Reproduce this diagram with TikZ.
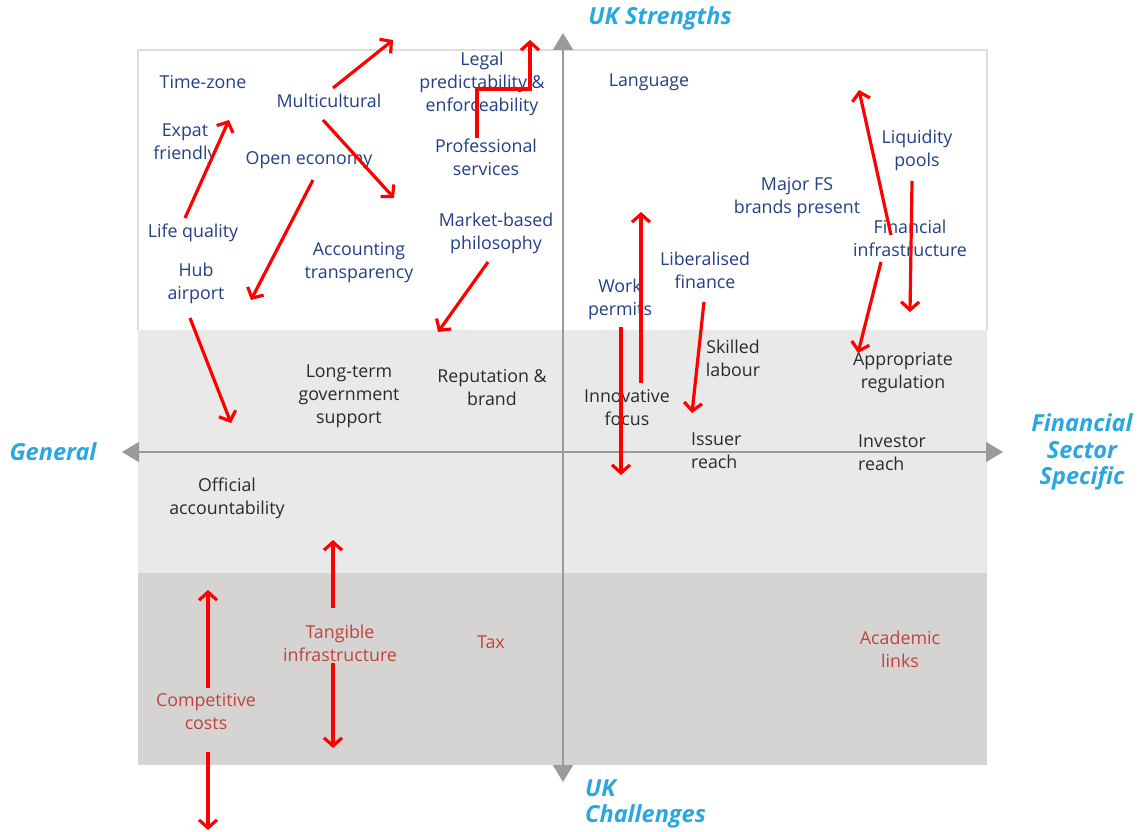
\documentclass[tikz,border=0pt]{standalone}
\usepackage{fontspec}
\setmainfont{Open Sans}
\usetikzlibrary{arrows.meta}
\definecolor{navy}{HTML}{233F86}
\definecolor{ink}{HTML}{2A2A2A}
\definecolor{brick}{HTML}{C0433A}
\definecolor{sky}{HTML}{2AA7DF}
\definecolor{midband}{HTML}{E9E9E9}
\definecolor{lowband}{HTML}{D5D4D3}
\definecolor{frame}{HTML}{DDDDDD}
\definecolor{axisgray}{HTML}{9A9A96}

\begin{document}
\begin{tikzpicture}[x=1pt,y=-1pt,
  lbl/.style={align=center,font=\fontsize{17.8}{23}\selectfont,inner sep=0pt},
  strength/.style={lbl,text=navy},
  neutral/.style={lbl,text=ink},
  challenge/.style={lbl,text=brick},
  heading/.style={font=\fontsize{23.5}{26.5}\selectfont\bfseries\itshape,text=sky,inner sep=0pt},
  link/.style={red,line width=3.2pt,-{Straight Barb[length=8pt,width=18pt]}},
  axis/.style={axisgray,line width=2pt,-{Triangle[length=17pt,width=20pt]}}]

\useasboundingbox (0,0) rectangle (1140,832);

% bands of the matrix
\fill[white] (138,50) rectangle (987,330);
\draw[frame,line width=1.5pt] (138,330) -- (138,50) -- (987,50) -- (987,330);
\fill[midband] (138,330) rectangle (987,573);
\fill[lowband] (138,573) rectangle (987,765);

% axes
\coordinate (origin) at (563,452);
\coordinate (top) at (563,33);
\coordinate (bottom) at (563,782);
\coordinate (left) at (122,452);
\coordinate (right) at (1003,452);
\draw[axis] (origin) -- (top);
\draw[axis] (origin) -- (bottom);
\draw[axis] (origin) -- (left);
\draw[axis] (origin) -- (right);

% axis headings
\node[heading] (hS) at (660,18) {UK Strengths};
\node[heading,align=left,anchor=west] (hC) at (585,804) {UK\\Challenges};
\node[heading] (hG) at (53,452) {General};
\node[heading,align=center] (hF) at (1082,452) {Financial\\Sector\\Specific};

% strengths
\node[strength] (timezone) at (203,82) {Time-zone};
\node[strength] (multi) at (329,101) {Multicultural};
\node[strength] (expat) at (185,144) {Expat\\friendly};
\node[strength] (open) at (309,160) {Open economy};
\node[strength] (life) at (193,233) {Life quality};
\node[strength] (hub) at (196,283) {Hub\\airport};
\node[strength] (acct) at (359,263) {Accounting\\transparency};
\node[strength] (legal) at (482,84) {Legal\\predictability \&\\enforceability};
\node[strength] (prof) at (486,157) {Professional\\services};
\node[strength] (market) at (496,233) {Market-based\\philosophy};
\node[strength] (lang) at (649,82) {Language};
\node[strength] (liq) at (917,150) {Liquidity\\pools};
\node[strength] (brands) at (797,198) {Major FS\\brands present};
\node[strength] (finfra) at (910,238) {Financial\\infrastructure};
\node[strength] (liberal) at (705,270) {Liberalised\\finance};
\node[strength] (work) at (620,299) {Work\\permits};

% neutral factors
\node[neutral] (govt) at (349,396) {Long-term\\government\\support};
\node[neutral] (rep) at (492,388) {Reputation \&\\brand};
\node[neutral] (innov) at (627,408) {Innovative\\focus};
\node[neutral] (skill) at (733,358) {Skilled\\labour};
\node[neutral] (reg) at (903,373) {Appropriate\\regulation};
\node[neutral,align=left,anchor=west] (issuer) at (691,451) {Issuer\\reach};
\node[neutral,align=left,anchor=west] (investor) at (858,453) {Investor\\reach};
\node[neutral] (official) at (227,498) {Official\\accountability};

% challenges
\node[challenge] (tangible) at (340,643) {Tangible\\infrastructure};
\node[challenge] (tax) at (491,642) {Tax};
\node[challenge] (costs) at (206,712) {Competitive\\costs};
\node[challenge] (academic) at (900,649) {Academic\\links};

% movement of each factor
\coordinate (m1a) at (333,88);   \coordinate (m1b) at (393,40);
\coordinate (m2a) at (323,120);  \coordinate (m2b) at (394,198);
\coordinate (m3a) at (185,218);  \coordinate (m3b) at (229,120);
\coordinate (m4a) at (313,180);  \coordinate (m4b) at (251,300);
\coordinate (m5a) at (477,138);  \coordinate (m5b) at (477,89);
\coordinate (m5c) at (530,89);   \coordinate (m5d) at (530,40);
\coordinate (m6a) at (488,262);  \coordinate (m6b) at (438,332);
\coordinate (m7a) at (190,318);  \coordinate (m7b) at (231,423);
\coordinate (m8a) at (641,383);  \coordinate (m8b) at (641,212);
\coordinate (m9a) at (621,327);  \coordinate (m9b) at (621,475);
\coordinate (m10a) at (704,302); \coordinate (m10b) at (692,413);
\coordinate (m11a) at (891,235); \coordinate (m11b) at (859,90);
\coordinate (m12a) at (912,181); \coordinate (m12b) at (910,312);
\coordinate (m13a) at (881,262); \coordinate (m13b) at (858,353);
\coordinate (m14a) at (333,608); \coordinate (m14b) at (333,540);
\coordinate (m15a) at (333,663); \coordinate (m15b) at (333,748);
\coordinate (m16a) at (208,688); \coordinate (m16b) at (208,590);
\coordinate (m17a) at (208,752); \coordinate (m17b) at (208,830);

\draw[link] (m1a) -- (m1b);
\draw[link] (m2a) -- (m2b);
\draw[link] (m3a) -- (m3b);
\draw[link] (m4a) -- (m4b);
\draw[link] (m5a) -- (m5b) -- (m5c) -- (m5d);
\draw[link] (m6a) -- (m6b);
\draw[link] (m7a) -- (m7b);
\draw[link] (m8a) -- (m8b);
\draw[link] (m9a) -- (m9b);
\draw[link] (m10a) -- (m10b);
\draw[link] (m11a) -- (m11b);
\draw[link] (m12a) -- (m12b);
\draw[link] (m13a) -- (m13b);
\draw[link] (m14a) -- (m14b);
\draw[link] (m15a) -- (m15b);
\draw[link] (m16a) -- (m16b);
\draw[link] (m17a) -- (m17b);
\end{tikzpicture}
\end{document}
